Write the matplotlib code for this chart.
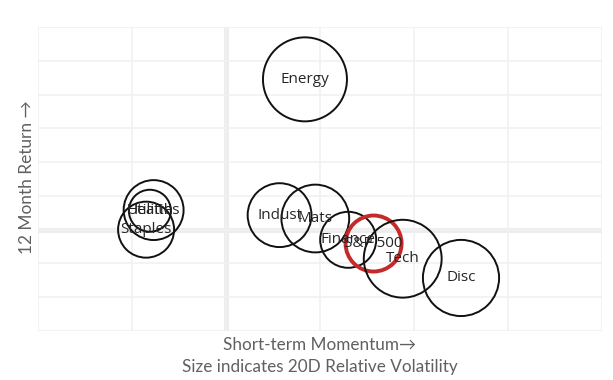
import matplotlib
matplotlib.use("Agg")
import matplotlib.pyplot as plt

sectors = ["Energy", "Utilities", "Health", "Staples", "Indust", "Mats",
           "Finance", "S&P 500", "Tech", "Disc"]
momentum = [0.84, -0.77, -0.81, -0.85, 0.57, 0.95, 1.30, 1.57, 1.88, 2.50]
ret_12m = [4.45, 0.58, 0.56, 0.00, 0.43, 0.33, -0.30, -0.41, -0.86, -1.43]
volatility = [1.50, 1.07, 0.75, 1.00, 1.14, 1.21, 1.00, 1.00, 1.39, 1.36]

W, H, DPI = 613, 380, 100
fig = plt.figure(figsize=(W / DPI, H / DPI), dpi=DPI)
ax = fig.add_axes([38 / W, (H - 331) / H, (602 - 38) / W, (331 - 27) / H])

ax.set_xlim(-2, 4)
ax.set_ylim(-3, 6)
ax.set_xticks(range(-2, 5))
ax.set_yticks(range(-3, 7))
ax.tick_params(length=0, labelbottom=False, labelleft=False)
for s in ax.spines.values():
    s.set_visible(False)
ax.grid(True, color="#f1f1f1", lw=1.2, zorder=0)
ax.axvline(0, color="#ececec", lw=3.5, zorder=0.5)
ax.axhline(0, color="#ececec", lw=3.5, zorder=0.5)

px_per_unit = 28  # radius in pixels for volatility 1.0
for name, x, y, v in zip(sectors, momentum, ret_12m, volatility):
    r_px = v * px_per_unit
    d_pt = 2 * r_px * 72 / DPI
    is_idx = name == "S&P 500"
    ax.scatter([x], [y], s=d_pt ** 2, facecolors="none",
               edgecolors="#c42a2a" if is_idx else "#111111",
               linewidths=2.8 if is_idx else 1.4, zorder=3)
for name, x, y in zip(sectors, momentum, ret_12m):
    ax.text(x, y, name, ha="center", va="center", fontsize=11,
            color="#262626", family="Open Sans", zorder=4)

fig.text(320 / W, 1 - 345 / H, "Short-term Momentum\u2192", ha="center",
         va="center", fontsize=12.3, color="#606060", family="Lato")
fig.text(320 / W, 1 - 367 / H, "Size indicates 20D Relative Volatility",
         ha="center", va="center", fontsize=12.3, color="#606060", family="Lato")
fig.text(27 / W, 1 - 177 / H, "12 Month Return \u2192", ha="center",
         va="center", rotation=90, fontsize=12.4, color="#606060", family="Lato")

fig.savefig("out.png", dpi=DPI)
